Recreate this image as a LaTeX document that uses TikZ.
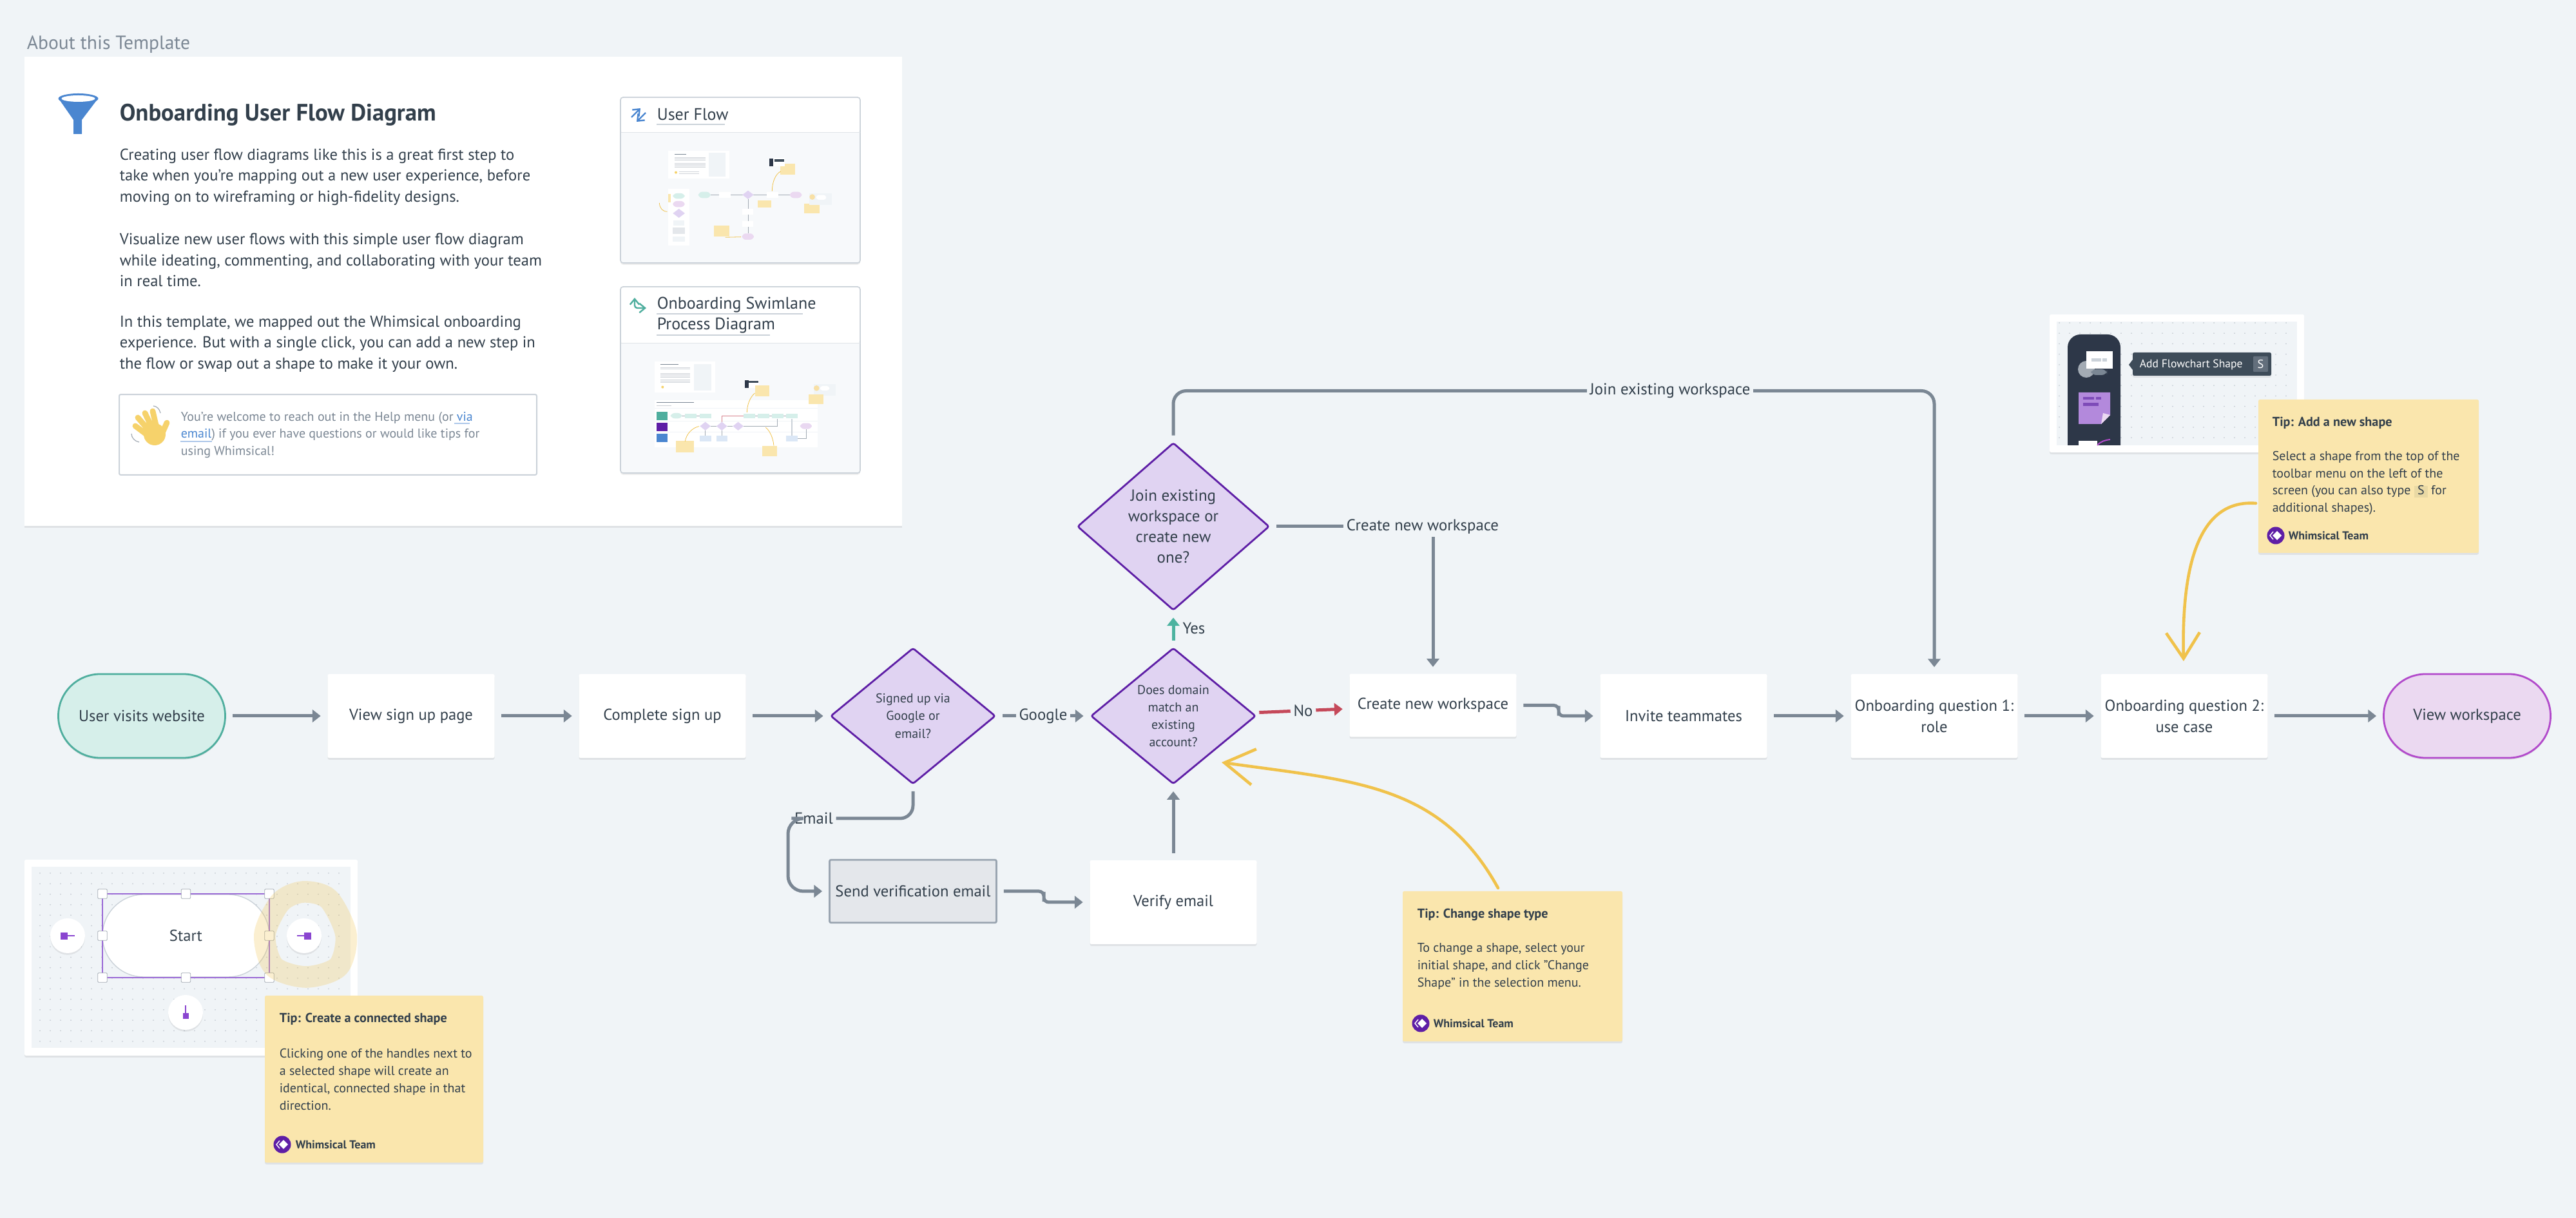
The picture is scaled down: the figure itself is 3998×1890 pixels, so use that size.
\documentclass[tikz,border=0pt]{standalone}
\usepackage{fontspec}
\setmainfont{PT Sans}
\usetikzlibrary{arrows.meta,calc,positioning,shapes.geometric,shadows}

\definecolor{pagebg}{HTML}{F0F4F7}
\definecolor{inktext}{HTML}{323F4B}
\definecolor{softtext}{HTML}{7B8794}
\definecolor{linegray}{HTML}{7B8794}
\definecolor{paleline}{HTML}{CBD2D9}
\definecolor{prevfill}{HTML}{F7F9FB}
\definecolor{decfill}{HTML}{E0D3F2}
\definecolor{decline}{HTML}{5E1EA6}
\definecolor{startfill}{HTML}{D6EFEA}
\definecolor{startline}{HTML}{4FAE9E}
\definecolor{endfill}{HTML}{EBD9F1}
\definecolor{endline}{HTML}{B24ACB}
\definecolor{sendfill}{HTML}{E4E7EB}
\definecolor{sendline}{HTML}{9AA5B1}
\definecolor{nogo}{HTML}{C5495A}
\definecolor{yesgo}{HTML}{4DB3A0}
\definecolor{notefill}{HTML}{FAE6AD}
\definecolor{keyfill}{HTML}{E9D9A4}
\definecolor{marker}{HTML}{F0C24B}
\definecolor{funnelblue}{HTML}{4A86D0}
\definecolor{darkbar}{HTML}{2D3748}
\definecolor{tipbar}{HTML}{3E4C59}
\definecolor{selpurple}{HTML}{9B6BD6}
\definecolor{stickypurple}{HTML}{B389DC}
\definecolor{handpurple}{HTML}{8A45D0}
\definecolor{dotgray}{HTML}{C5CCD3}
\definecolor{handyellow}{HTML}{F6D26B}

\tikzset{
  softshadow/.style={drop shadow={shadow xshift=0pt,shadow yshift=-.7pt,opacity=.07,fill=black}},
  flowbox/.style={draw=none,fill=white,softshadow,rounded corners=.6pt,minimum width=64.75pt,minimum height=32.5pt,inner sep=0pt,align=center,text=inktext,font=\fontsize{6.15}{8.25}\selectfont},
  shortbox/.style={flowbox,minimum height=24.4pt},
  sendstyle/.style={fill=sendfill,draw=sendline,line width=.7pt,rounded corners=.6pt,minimum width=64.75pt,minimum height=24.4pt,inner sep=0pt,text=inktext,font=\fontsize{6.15}{8.25}\selectfont},
  terminal/.style={flowbox,rounded corners=16.2pt,line width=.7pt},
  decision/.style={diamond,draw=decline,fill=decfill,line width=.7pt,rounded corners=.8pt,inner sep=0pt,align=center,text=inktext,minimum width=64pt,minimum height=52.8pt,font=\fontsize{5}{6.8}\selectfont},
  bigdecision/.style={decision,minimum width=74.5pt,minimum height=65pt,font=\fontsize{6.25}{8}\selectfont},
  edgetext/.style={inner sep=1pt,text=inktext,font=\fontsize{6.2}{7}\selectfont},
  flowline/.style={draw=linegray,line width=1.25pt,shorten <=2.5pt,shorten >=2.5pt},
  flowarrow/.style={flowline,-{Triangle[length=3.2pt,width=4.8pt]}},
  tolabel/.style={shorten >=0pt},
  fromlabel/.style={shorten <=0pt},
  tipcurve/.style={draw=marker,line width=1.15pt,line cap=round,-{Straight Barb[length=11.5pt,width=14pt,line width=1.15pt]}},
  tipcurvesmall/.style={draw=marker,line width=1.15pt,line cap=round,-{Straight Barb[length=10pt,width=13pt,line width=1.15pt]}},
  notebox/.style={fill=notefill,rounded corners=.6pt,softshadow,inner sep=0pt},
  notetext/.style={anchor=west,inner sep=0pt,align=left,text=inktext,font=\fontsize{5}{6.7}\selectfont},
  notehead/.style={anchor=west,inner sep=0pt,text=inktext,font=\fontsize{5.05}{6.7}\selectfont\bfseries},
  teamtext/.style={anchor=west,inner sep=0pt,text=inktext,font=\fontsize{4.5}{5}\selectfont\bfseries},
  bodytext/.style={anchor=west,inner sep=0pt,align=left,text=inktext,font=\fontsize{6.15}{8.15}\selectfont},
  handle/.style={draw=softtext!70,line width=.2pt,fill=white,rounded corners=.3pt,minimum size=3.6pt,inner sep=0pt},
  roundbtn/.style={circle,fill=white,softshadow,minimum size=13.5pt,inner sep=0pt},
}

% small round badge with the team name beside it
\newcommand{\teambadge}[4]{
  \fill[decline] (#2,#3) circle[radius=13.5];
  \fill[white] (#2+9,#3) -- (#2+2,#3-7) -- (#2-5,#3) -- (#2+2,#3+7) -- cycle;
  \draw[white,line width=.35pt] (#2-4,#3-6) -- (#2-9,#3) -- (#2-4,#3+6);
  \node[teamtext] (#1) at (#4,#3) {Whimsical Team};
}
\newcommand{\keycap}[1]{{\setlength{\fboxsep}{0pt}\smash{\colorbox{keyfill}{\vphantom{Ag}\hspace{1.3pt}#1\hspace{1.3pt}}}}}

\begin{document}
\begin{tikzpicture}[x=.25pt,y=-.25pt,on grid]
  \useasboundingbox (0,0) rectangle (3998,1890);
  \fill[pagebg] (0,0) rectangle (3998,1890);

  % about card
  \node[anchor=west,inner sep=0pt,text=softtext,font=\fontsize{7.4}{8}\selectfont] (abouthead) at (41,69) {About this Template};
  \node[fill=white,softshadow,inner sep=0pt,minimum width=340.5pt,minimum height=182pt] (aboutcard) at (719,452.5) {};
  \fill[funnelblue] (91,153) -- (114,186) -- (114,208) -- (127,208) -- (127,186) -- (152,153) -- cycle;
  \fill[funnelblue] (121.5,153) ellipse[x radius=31,y radius=8];
  \fill[white] (121.5,153) ellipse[x radius=26,y radius=5];
  \node[anchor=west,inner sep=0pt,text=inktext,font=\fontsize{9.2}{10}\selectfont\bfseries] (abouttitle) at (185,178) {Onboarding User Flow Diagram};
  \node[bodytext] (parafirst) at (185,274.5) {Creating user flow diagrams like this is a great first step to\\take when you're mapping out a new user experience, before\\moving on to wireframing or high-fidelity designs.};
  \node[bodytext] (parasecond) at (185,403.5) {Visualize new user flows with this simple user flow diagram\\while ideating, commenting, and collaborating with your team\\in real time.};
  \node[bodytext] (parathird) at (185,533.5) {In this template, we mapped out the Whimsical onboarding\\experience. But with a single click, you can add a new step in\\the flow or swap out a shape to make it your own.};

  % help box with the waving hand
  \node[draw=paleline,line width=.5pt,fill=white,rounded corners=.6pt,minimum width=162pt,minimum height=31.2pt,inner sep=0pt] (helpbox) at (509,674.5) {};
  \node[notetext,text=softtext] (helptext) at (280,675) {You're welcome to reach out in the Help menu (or \textcolor{funnelblue}{via}\\\textcolor{funnelblue}{email}) if you ever have questions or would like tips for\\using Whimsical!};
  \draw[funnelblue!45,line width=.3pt] (705,657) -- (729,657) (280,685) -- (329,685);
  \fill[handyellow] (240,674) circle[radius=17];
  \draw[handyellow,line width=2.2pt,line cap=round] (244,668) -- (237,638) (238,668) -- (225,641) (233,670) -- (214,648) (230,676) -- (210,661) (251,674) -- (259,656);
  \draw[softtext!70,line width=.3pt] (238,630) .. controls (243,630) and (248,635) .. (249,641) (204,673) .. controls (204,679) and (209,685) .. (216,686);

  % preview card, user flow
  \node[draw=paleline,line width=.4pt,fill=prevfill,softshadow,rounded corners=1pt,minimum width=93pt,minimum height=64.25pt,inner sep=0pt] (flowcard) at (1149,279.5) {};
  \fill[white,rounded corners=1pt] (964,152) rectangle (1334,206);
  \draw[paleline!60,line width=.25pt] (963.5,206) -- (1334.5,206);
  \node[anchor=west,inner sep=0pt,text=inktext,font=\fontsize{6.5}{8}\selectfont] (flowlink) at (1019,178) {User Flow};
  \draw[funnelblue,line width=.6pt,-{Straight Barb[length=2.2pt,width=3.6pt]}] (980,182) -- (994,168);
  \draw[funnelblue,line width=.6pt,-{Straight Barb[length=2.2pt,width=3.6pt]}] (1002,175) -- (988,189);
  \begin{scope}[shift={(950,130)},scale=.3333]
    % thumbnail drawn at the scale of its zoom
    \fill[white] (262,312) rectangle (545,442);
    \fill[pagebg] (450,322) rectangle (527,432);
    \fill[softtext] (290,328) rectangle (345,331);
    \foreach \ly in {343,349,355,368,374,380,386} \fill[softtext!35] (290,\ly) rectangle (435,\ly+2);
    \fill[handyellow] (297,413) circle[radius=6];
    \foreach \ly in {409,417} \fill[softtext!35] (312,\ly) rectangle (405,\ly+2);
    \fill[white] (262,488) rectangle (360,752);
    \fill[notefill] (260,512) rectangle (272,553);
    \fill[startfill,rounded corners=1.5pt] (283,510) rectangle (338,535);
    \fill[endfill,rounded corners=1.5pt] (283,546) rectangle (338,574);
    \fill[decfill] (283,603) -- (311,582) -- (339,603) -- (311,624) -- cycle;
    \fill[pagebg] (285,636) rectangle (337,660);
    \fill[sendfill] (283,670) rectangle (338,700);
    \fill[pagebg] (282,710) rectangle (338,735);
    \draw[softtext!70,line width=.15pt] (458,517) -- (828,517) (633,537) -- (633,697);
    \fill[startfill,rounded corners=1.5pt] (402,503) rectangle (458,532);
    \fill[white] (498,505) rectangle (552,532);
    \fill[decfill] (607,517) -- (633,497) -- (659,517) -- (633,537) -- cycle;
    \fill[white] (720,505) rectangle (775,532);
    \fill[endfill,rounded corners=1.5pt] (828,503) rectangle (883,532);
    \fill[white] (605,582) rectangle (658,610);
    \fill[white] (605,640) rectangle (658,667);
    \fill[endfill,rounded corners=1.5pt] (605,697) rectangle (660,726);
    \fill[notefill] (678,543) rectangle (741,577);
    \fill[notefill] (783,372) rectangle (853,422);
    \fill[notefill] (895,558) rectangle (965,602);
    \fill[notefill] (473,659) rectangle (545,711);
    \fill[white] (733,345) rectangle (805,385);
    \fill[darkbar] (733,347) rectangle (750,384);
    \fill[tipbar] (755,352) rectangle (800,362);
    \fill[pagebg] (918,510) rectangle (1022,565);
    \fill[white,rounded corners=1pt] (950,518) rectangle (997,540);
    \fill[marker!50] (932,527) circle[radius=13];
    \draw[marker,line width=.2pt] (785,408) .. controls (760,420) and (745,460) .. (745,500) (220,555) .. controls (222,580) and (235,595) .. (257,595) (527,715) -- (600,713);
  \end{scope}

  % preview card, swimlane
  \node[draw=paleline,line width=.4pt,fill=prevfill,softshadow,rounded corners=1pt,minimum width=93pt,minimum height=72.25pt,inner sep=0pt] (lanecard) at (1149,589.5) {};
  \fill[white,rounded corners=1pt] (964,446) rectangle (1334,533);
  \draw[paleline!60,line width=.25pt] (963.5,533) -- (1334.5,533);
  \node[anchor=west,inner sep=0pt,text=inktext,font=\fontsize{6.5}{8}\selectfont] (lanelink) at (1019,473) {Onboarding Swimlane};
  \node[anchor=west,inner sep=0pt,text=inktext,font=\fontsize{6.5}{8}\selectfont] (lanelinkb) at (1019,505) {Process Diagram};
  \draw[paleline,line width=.6pt] (1019,193) -- (1125,193) (1019,487) -- (1246,487) (1019,520) -- (1195,520);
  \draw[startline,line width=.6pt,rounded corners=1pt,{Straight Barb[length=2.2pt,width=3.6pt]}-{Straight Barb[length=2.2pt,width=3.6pt]}] (985,462) -- (985,478) -- (1003,478);
  \begin{scope}[shift={(950,430)},scale=.3333]
    \fill[white] (198,392) rectangle (480,538);
    \fill[pagebg] (380,405) rectangle (463,528);
    \fill[softtext] (225,405) rectangle (310,408);
    \foreach \ly in {420,426,446,452,458,464,478,484,490} \fill[softtext!35] (225,\ly) rectangle (363,\ly+2);
    \fill[handyellow] (235,512) circle[radius=6];
    \fill[white] (617,478) rectangle (685,517);
    \fill[darkbar] (617,480) rectangle (635,515);
    \fill[tipbar] (637,483) rectangle (682,493);
    \fill[pagebg] (938,498) rectangle (1040,552);
    \fill[white,rounded corners=1pt] (968,507) rectangle (1012,528);
    \fill[marker!50] (952,517) circle[radius=13];
    \fill[white] (198,572) rectangle (958,792);
    \fill[softtext] (208,583) rectangle (380,586);
    \fill[softtext!40] (208,596) rectangle (275,599);
    \draw[pagebg,line width=.25pt] (198,612) -- (958,612) (198,670) -- (958,670) (198,722) -- (958,722);
    \fill[startline] (207,627) rectangle (258,665);
    \fill[decline] (207,678) rectangle (258,716);
    \fill[funnelblue] (207,728) rectangle (258,767);
    \draw[softtext!70,line width=.15pt] (273,646) -- (462,646) (612,646) -- (865,646) (460,694) -- (485,694) (537,694) -- (562,694) (612,694) -- (770,694) -- (770,660) (865,750) -- (903,750) -- (903,707) (434,714) -- (434,738) (511,714) -- (511,738);
    \draw[nogo!70,line width=.15pt] (511,675) -- (511,646) -- (612,646);
    \draw[paleline,line width=.4pt] (837,660) -- (837,738);
    \fill[startfill,rounded corners=1.5pt] (273,633) rectangle (325,658);
    \foreach \lx in {340,408,612,678,745,811} \fill[startfill] (\lx,635) rectangle (\lx+53,658);
    \foreach \lx in {434,511,587} \fill[decfill] (\lx-25,694) -- (\lx,674) -- (\lx+25,694) -- (\lx,714) -- cycle;
    \fill[endfill!80!decfill,rounded corners=1.5pt] (876,680) rectangle (930,707);
    \foreach \lx in {408,485,811} \fill[funnelblue!20] (\lx,738) rectangle (\lx+53,765);
    \fill[notefill] (665,503) rectangle (733,555);
    \fill[notefill] (915,547) rectangle (983,590);
    \fill[notefill] (297,763) rectangle (380,815);
    \fill[notefill] (700,785) rectangle (768,833);
    \draw[marker,line width=.2pt] (665,540) .. controls (640,560) and (628,600) .. (628,630) (340,765) .. controls (345,730) and (375,700) .. (405,695) (753,785) .. controls (750,750) and (735,715) .. (715,700);
  \end{scope}

  % main flow
  \node[terminal,fill=startfill,draw=startline] (start) at (220,1111) {User visits website};
  \node[flowbox] (signuppage) [right=104.5pt of start] {View sign up page};
  \node[flowbox] (signup) [right=97.5pt of signuppage] {Complete sign up};
  \node[decision] (signed) [right=97.25pt of signup] {Signed up via\\Google or\\email?};
  \node[decision] (domain) [right=101pt of signed] {Does domain\\match an\\existing\\account?};
  \node[bigdecision] (joinq) [above=73.5pt of domain] {Join existing\\workspace or\\create new\\one?};
  \node[shortbox] (createbox) at (2224,1094.5) {Create new workspace};
  \node[flowbox] (invite) [right=198pt of domain] {Invite teammates};
  \node[flowbox] (roleq) [right=97.25pt of invite] {Onboarding question 1:\\role};
  \node[flowbox] (caseq) [right=97pt of roleq] {Onboarding question 2:\\use case};
  \node[terminal,fill=endfill,draw=endline] (viewws) [right=109.75pt of caseq] {View workspace};
  \node[sendstyle] (sendbox) [below=68pt of signed] {Send verification email};
  \node[flowbox] (verify) [below=72.25pt of domain] {Verify email};

  \node[edgetext] (googlelbl) [right=50.5pt of signed] {Google};
  \node[edgetext] (nolbl) at ($(domain)!.5!(createbox)$) {No};
  \node[edgetext] (yeslbl) at (1853,975) {Yes};
  \node[edgetext] (emaillbl) at (1263,1270) {Email};
  \node[edgetext] (createlbl) at (2208,817) {Create new workspace};
  \node[edgetext] (joinlbl) at (2592,606.5) {Join existing workspace};
  \coordinate (emailbend) at (1223,1270);
  \coordinate (sendmid) at (1620,1391.5);
  \coordinate (createmid) at (2419,1103);

  \draw[flowarrow] (start) -- (signuppage);
  \draw[flowarrow] (signuppage) -- (signup);
  \draw[flowarrow] (signup) -- (signed);
  \draw[flowline,tolabel] (signed) -- (googlelbl);
  \draw[flowarrow,fromlabel] (googlelbl) -- (domain);
  \draw[flowline,tolabel,draw=nogo] (domain) -- (nolbl);
  \draw[flowarrow,fromlabel,draw=nogo] (nolbl) -- (createbox);
  \draw[flowarrow,draw=yesgo] (domain) -- (joinq);
  \draw[flowline,tolabel,rounded corners=5pt] (joinq) |- (joinlbl);
  \draw[flowarrow,fromlabel,rounded corners=5pt] (joinlbl) -| (roleq);
  \draw[flowline,tolabel] (joinq) -- (createlbl);
  \draw[flowarrow,fromlabel] (createlbl.south -| createbox) -- (createbox);
  \draw[flowline,tolabel,rounded corners=5pt] (signed) |- (emaillbl);
  \draw[flowarrow,fromlabel,rounded corners=6pt] (emaillbl) -- (emailbend) |- (sendbox);
  \draw[flowarrow,rounded corners=1.9pt] (sendbox) -| (sendmid) |- (verify);
  \draw[flowarrow] (verify) -- (domain);
  \draw[flowarrow,rounded corners=1.9pt] (createbox) -| (createmid) |- (invite);
  \draw[flowarrow] (invite) -- (roleq);
  \draw[flowarrow] (roleq) -- (caseq);
  \draw[flowarrow] (caseq) -- (viewws);

  % panel with the connected shape
  \node[fill=white,softshadow,rounded corners=.6pt,minimum width=129.25pt,minimum height=76pt,inner sep=0pt] (startpanel) at (296.5,1486) {};
  \fill[pagebg] (49,1345) rectangle (544,1626);
  \foreach \dx in {0,...,29} \foreach \dy in {0,...,16}
    \fill[dotgray] (62+16*\dx,1355+16.3*\dy) circle[radius=1];
  \node[draw=paleline,line width=.35pt,fill=white,rounded corners=16pt,minimum width=64.75pt,minimum height=32pt,inner sep=0pt,text=inktext,font=\fontsize{6.15}{8}\selectfont] (startshape) at (288.5,1452) {Start};
  \draw[selpurple,line width=.45pt] (159,1387) rectangle (418,1517);
  \foreach \hx/\hy [count=\hi] in {159/1387,288.5/1387,418/1387,159/1452,418/1452,159/1517,288.5/1517,418/1517}
    \node[handle] (grip\hi) at (\hx,\hy) {};
  \node[roundbtn] (leftbtn) at (105,1452) {};
  \node[roundbtn] (rightbtn) at (472,1452) {};
  \node[roundbtn] (downbtn) at (288,1571) {};
  \fill[handpurple] (94,1447) rectangle (105,1458);
  \draw[handpurple,line width=.5pt] (105,1452) -- (116,1452);
  \fill[handpurple] (472,1447) rectangle (483,1458);
  \draw[handpurple,line width=.5pt] (461,1452) -- (472,1452);
  \fill[handpurple] (283.5,1572) rectangle (293,1581);
  \draw[handpurple,line width=.5pt] (288,1560) -- (288,1572);
  \draw[marker,opacity=.26,line width=8.4pt] plot[smooth cycle] coordinates {(470,1384) (510,1395) (537,1450) (525,1500) (475,1516) (425,1500) (411,1450) (435,1400)};

  % panel with the toolbar
  \node[fill=white,softshadow,rounded corners=.6pt,minimum width=98.75pt,minimum height=53.5pt,inner sep=0pt] (toolpanel) at (3378.5,595) {};
  \fill[pagebg] (3192,499) rectangle (3565,691);
  \foreach \dx in {0,...,22} \foreach \dy in {0,...,11}
    \fill[dotgray] (3196+16*\dx,501+16.2*\dy) circle[radius=1];
  \fill[darkbar] (3209,691) [rounded corners=5pt] -- (3209,519) -- (3291,519) [sharp corners] -- (3291,691) -- cycle;
  \fill[softtext!70] (3238,573) circle[radius=13];
  \fill[softtext,rounded corners=2pt] (3245,573) rectangle (3270,582);
  \fill[white] (3238,545) rectangle (3279,572);
  \fill[paleline] (3246,556) rectangle (3261,561);
  \fill[paleline] (3263,556) rectangle (3270,561);
  \fill[stickypurple] (3226,609) -- (3275,609) -- (3275,644) -- (3261,658) -- (3226,658) -- cycle;
  \fill[endfill] (3275,644) -- (3261,658) -- (3264,641) -- cycle;
  \fill[decline!80] (3233,616) rectangle (3250,620.5);
  \fill[decline!80] (3253,616) rectangle (3261,620.5);
  \fill[decline!80] (3233,625) rectangle (3257,630);
  \fill[white] (3226,684) rectangle (3255,691);
  \draw[endline,line width=.5pt] (3255,691) .. controls (3260,685) and (3267,683) .. (3275,682);
  \fill[tipbar] (3310,558) -- (3304,566) -- (3310,574) -- cycle;
  \node[fill=tipbar,rounded corners=.6pt,softshadow,minimum width=53.75pt,minimum height=9pt,inner sep=0pt] (tooltip) at (3417.5,565) {};
  \node[anchor=west,inner sep=0pt,text=white,font=\fontsize{4.4}{6}\selectfont] (tooltiptext) at (3320,566) {Add Flowchart Shape};
  \node[fill=softtext!60!tipbar,rounded corners=.3pt,minimum width=5.75pt,minimum height=6pt,inner sep=0pt,text=white,font=\fontsize{4.6}{6}\selectfont] (tooltipkey) at (3508.5,565) {S};

  % sticky notes
  \node[notebox,minimum width=84.75pt,minimum height=64.75pt] (connectnote) at (580.5,1674.5) {};
  \node[notehead] (connecthead) at (433,1581) {Tip: Create a connected shape};
  \node[notetext] (connectbody) at (433,1675) {Clicking one of the handles next to\\a selected shape will create an\\identical, connected shape in that\\direction.};
  \teambadge{connectteam}{438}{1776}{458}

  \node[notebox,minimum width=85.25pt,minimum height=58.25pt] (changenote) at (2347.5,1499.5) {};
  \node[notehead] (changehead) at (2199,1419) {Tip: Change shape type};
  \node[notetext] (changebody) at (2199,1499.5) {To change a shape, select your\\initial shape, and click "Change\\Shape" in the selection menu.};
  \teambadge{changeteam}{2205}{1588}{2224}

  \node[notebox,minimum width=85.5pt,minimum height=59.5pt] (addnote) at (3676,739) {};
  \node[notehead] (addhead) at (3526,656) {Tip: Add a new shape};
  \node[notetext] (addbody) at (3526,749.5) {Select a shape from the top of the\\toolbar menu on the left of the\\screen (you can also type \keycap{S} for\\additional shapes).};
  \teambadge{addteam}{3532}{831}{3551}

  % marker arrows from the notes
  \coordinate (changefrom) at (2325,1378);
  \coordinate (changeto) at (1896,1183);
  \coordinate (addfrom) at (3501,781);
  \coordinate (addto) at (3389,1026);
  \draw[tipcurve] (changefrom) .. controls (2235,1215) and (2100,1212) .. (changeto);
  \draw[tipcurvesmall] (addfrom) .. controls (3420,775) and (3385,860) .. (addto);
\end{tikzpicture}
\end{document}
